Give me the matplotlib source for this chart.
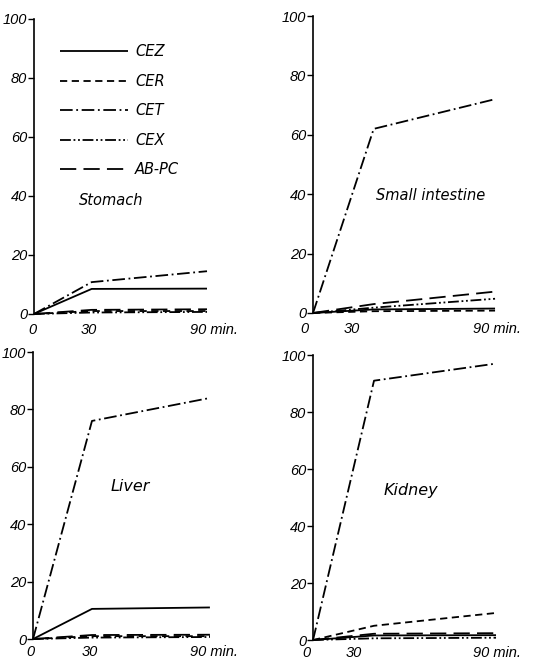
import matplotlib
matplotlib.use("Agg")
import matplotlib.pyplot as plt
from matplotlib.transforms import blended_transform_factory, offset_copy

plt.rcParams["font.family"] = ["DejaVu Sans"]
plt.rcParams["font.style"] = "oblique"
TICK_FONT = ["Liberation Sans", "DejaVu Sans"]

TIMES = [0, 30, 90]
DRUGS = ["CEZ", "CER", "CET", "CEX", "AB-PC"]
PANELS = ["Stomach", "Small intestine", "Liver", "Kidney"]
YTICKS = [0, 20, 40, 60, 80, 100]
XTICK_LABELS = ["0", "30", "90 min."]

# values per panel, one list per drug (0, 30, 90 min)
stomach = {
    "CEZ": [0, 8.5, 8.6],
    "CER": [0, 1.0, 1.0],
    "CET": [0, 10.8, 14.5],
    "CEX": [0, 0.5, 0.7],
    "AB-PC": [0, 1.4, 1.6],
}
small_intestine = {
    "CEZ": [0, 1.2, 1.5],
    "CER": [0, 0.6, 0.8],
    "CET": [0, 62, 72],
    "CEX": [0, 1.8, 4.8],
    "AB-PC": [0, 3.0, 7.2],
}
liver = {
    "CEZ": [0, 10.5, 11],
    "CER": [0, 1.0, 1.0],
    "CET": [0, 76, 84],
    "CEX": [0, 0.5, 0.7],
    "AB-PC": [0, 1.4, 1.5],
}
kidney = {
    "CEZ": [0, 1.6, 1.7],
    "CER": [0, 5.0, 9.5],
    "CET": [0, 91, 97],
    "CEX": [0, 0.6, 0.8],
    "AB-PC": [0, 2.2, 2.4],
}
DATA = [stomach, small_intestine, liver, kidney]

STYLES = {
    "CEZ": (0, ()),
    "CER": (0, (4, 2.5)),
    "CET": (0, (7, 2, 1, 2)),
    "CEX": (0, (6, 1.5, 1, 1.5, 1, 1.5)),
    "AB-PC": (0, (9, 4)),
}

# axes rectangles (left, bottom, width, height) in figure fraction
RECTS = [
    (0.0634, 0.5257, 0.3228, 0.4456),
    (0.584, 0.5272, 0.3396, 0.4486),
    (0.0616, 0.0347, 0.330, 0.4335),
    (0.584, 0.0332, 0.3414, 0.4305),
]
LABEL_POS = [(0.445, 0.386), (0.648, 0.397), (0.548, 0.53), (0.536, 0.526)]
# x-label shifts in pixels (dx for "0", "30", "90 min.", dy)
XLAB_SHIFT = [(-2, -3, -17, -16), (-9, -22, -22, -16),
              (-3, -2, -20, -13), (-7, -20, -23, -13)]

fig = plt.figure(figsize=(5.36, 6.62), dpi=100)

for i, (rect, panel, vals) in enumerate(zip(RECTS, PANELS, DATA)):
    ax = fig.add_axes(rect)
    for d in DRUGS:
        ax.plot(TIMES, vals[d], color="black", lw=1.3, linestyle=STYLES[d],
                label=d, clip_on=False)
    ax.set_xlim(0, 90)
    ax.set_ylim(0, 100)
    for s in ("top", "right", "bottom"):
        ax.spines[s].set_visible(False)
    ax.spines["left"].set_linewidth(1.2)
    ax.set_yticks(YTICKS)
    ax.set_yticklabels([str(v) for v in YTICKS], fontsize=10.5,
                       family=TICK_FONT)
    ax.tick_params(axis="y", direction="out", length=4, width=1, pad=1)
    ax.set_xticks([])

    base = blended_transform_factory(ax.transData, ax.transAxes)
    sh = XLAB_SHIFT[i]
    for j, (t, lab) in enumerate(zip(TIMES, XTICK_LABELS)):
        tr = offset_copy(base, fig=fig, x=sh[j], y=sh[3], units="dots")
        ax.text(t, 0, lab, transform=tr, fontsize=10.5, va="center",
                family=TICK_FONT, ha="left" if j == 2 else "center")

    ax.text(LABEL_POS[i][0], LABEL_POS[i][1], panel, transform=ax.transAxes,
            ha="center", va="center", fontsize=10.5 if i < 2 else 11.5)
    if i == 0:
        ax.legend(loc="upper left", bbox_to_anchor=(0.15, 0.915),
                  frameon=False, fontsize=10.5, handlelength=4.7,
                  handletextpad=0.45, labelspacing=1.0, borderpad=0,
                  borderaxespad=0)

fig.savefig("out.png", dpi=100)
